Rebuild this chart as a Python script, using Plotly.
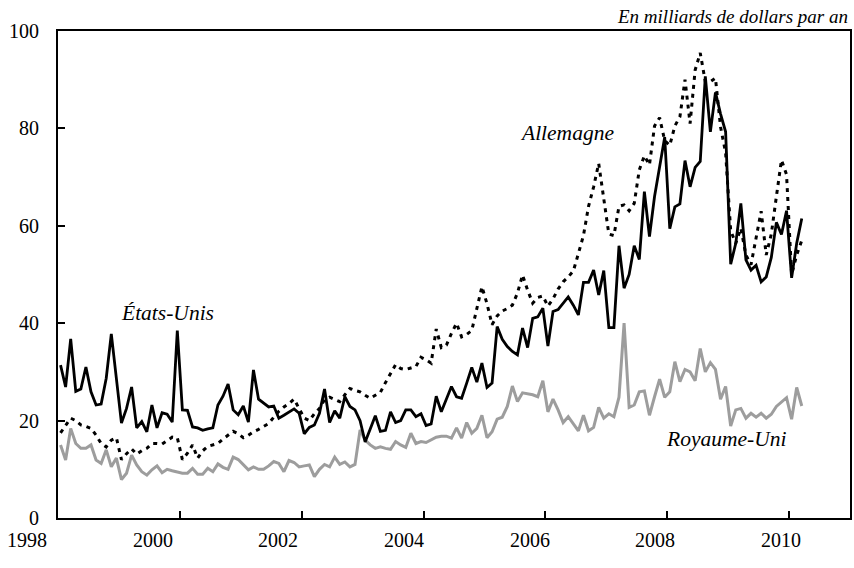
import plotly.graph_objects as go

# monthly, January 1998 onwards
start_year = 1998

etats_unis = [
    31.4, 26.9, 36.8, 26.0, 26.5, 31.0, 25.9, 23.2, 23.4, 28.7, 37.8, 28.0,
    19.5, 22.5, 26.9, 18.5, 19.8, 17.7, 23.2, 18.5, 21.6, 21.3, 19.7, 38.5,
    22.2, 22.1, 18.7, 18.5, 18.0, 18.3, 18.5, 23.2, 25.0, 27.5, 22.2, 21.2,
    23.0, 19.7, 30.4, 24.4, 23.6, 22.8, 23.0, 20.5, 21.1, 21.7, 22.4, 21.5,
    17.3, 18.6, 19.1, 21.5, 26.5, 19.6, 22.0, 20.5, 24.9, 22.9, 22.2, 20.0,
    15.6, 18.3, 21.0, 17.8, 18.0, 21.8, 19.6, 20.0, 22.2, 22.2, 20.8, 21.4,
    19.0, 19.3, 25.0, 21.8, 24.3, 27.0, 24.9, 24.6, 27.7, 30.9, 27.9, 31.8,
    26.8, 27.7, 39.3, 36.7, 35.2, 34.2, 33.5, 39.0, 35.0, 41.0, 41.3, 43.1,
    35.3, 42.4, 42.8, 44.1, 45.4, 43.7, 41.7, 48.4, 48.4, 50.9, 45.8, 50.8,
    39.1, 39.1, 55.9, 47.2, 50.0, 55.9, 53.1, 67.0, 57.8, 66.0, 72.1, 78.2,
    59.4, 63.9, 64.5, 73.4, 68.0, 72.0, 73.2, 90.7, 79.3, 87.4, 83.0, 79.3,
    52.1, 56.4, 64.6, 53.0, 50.9, 51.9, 48.5, 49.5, 53.5, 60.7, 58.2, 63.1,
    49.3, 56.4, 61.5,
]

allemagne = [
    17.5, 19.0, 20.5, 20.0, 19.1, 18.8, 18.4, 17.0, 15.3, 14.6, 16.0, 16.5,
    12.0, 13.2, 14.2, 13.1, 13.8, 14.3, 15.3, 15.3, 15.2, 15.9, 16.6, 16.5,
    12.0, 13.3, 15.0, 12.3, 13.8, 14.7, 15.0, 15.3, 16.2, 17.0, 17.8, 17.3,
    16.5, 17.0, 17.7, 18.2, 18.8, 19.4, 20.7, 21.9, 22.8, 23.5, 24.4, 22.5,
    20.5, 20.0, 21.4, 22.5, 24.3, 24.8, 24.3, 23.9, 25.3, 26.6, 26.2, 25.9,
    25.2, 24.6, 25.2, 25.8, 27.8, 29.8, 31.5, 30.7, 30.5, 30.8, 31.1, 33.0,
    32.5, 31.8, 38.8, 35.0, 35.5, 37.9, 40.0, 37.2, 37.7, 38.5, 43.0, 47.5,
    44.0, 39.7, 41.5, 42.5, 43.0, 43.7, 46.2, 49.9, 46.8, 44.1, 45.3, 45.6,
    43.5, 45.0, 47.0, 48.5, 49.5, 50.7, 54.3, 58.0, 64.0, 68.0, 72.8, 65.0,
    58.3, 58.0, 64.0, 64.3, 63.1, 64.6, 71.5, 74.4, 72.5, 80.5, 82.2, 77.5,
    76.5, 80.5, 82.4, 90.0, 81.0, 92.0, 95.5, 89.6, 89.6, 90.3, 80.3, 75.0,
    59.0, 56.4, 59.5, 54.0, 52.0, 57.5, 63.0, 54.0, 58.3, 66.0, 73.5, 70.5,
    50.0, 54.0, 57.0,
]

royaume_uni = [
    15.0, 11.9, 18.4, 15.3, 14.3, 14.3, 15.0, 11.9, 11.2, 14.0, 10.5, 12.3,
    7.9, 9.2, 12.9, 10.9, 9.5, 8.8, 9.9, 10.7, 9.3, 10.0, 9.7, 9.5,
    9.2, 9.2, 10.2, 9.0, 9.0, 10.2, 9.5, 11.1, 10.4, 10.0, 12.5, 12.0,
    10.9, 9.9, 10.5, 10.0, 10.0, 10.7, 11.6, 11.2, 9.5, 11.8, 11.4, 10.5,
    10.7, 10.9, 8.5, 10.0, 11.0, 10.5, 12.5, 11.0, 11.5, 10.5, 11.0, 18.1,
    16.0, 15.0, 14.3, 14.6, 14.3, 14.1, 15.7, 15.0, 14.5, 17.4, 15.3, 15.7,
    15.5, 16.0, 16.6, 16.8, 16.8, 16.4, 18.5, 16.4, 19.6, 17.4, 18.4, 21.1,
    16.5, 17.7, 20.3, 20.7, 22.9, 27.1, 23.9, 25.7, 25.5, 25.3, 24.9, 28.2,
    21.8, 24.4, 22.2, 19.6, 20.8, 19.4, 17.9, 21.1, 17.9, 18.6, 22.7, 20.5,
    21.4, 20.8, 24.8, 40.0, 22.7, 23.2, 25.9, 26.1, 21.1, 24.9, 28.5, 24.8,
    25.9, 32.1, 28.0, 30.5, 30.0, 28.2, 34.8, 30.0, 31.9, 30.5, 24.4, 27.0,
    18.9, 22.2, 22.5, 20.5, 21.5, 20.7, 21.5, 20.5, 21.3, 22.9, 23.9, 24.7,
    20.3, 26.8, 23.0,
]

year_labels = ["1998", "2000", "2002", "2004", "2006", "2008", "2010"]

x = [start_year + i / 12 for i in range(len(etats_unis))]

font = "Liberation Serif"

fig = go.Figure()

fig.add_trace(go.Scatter(
    x=x, y=royaume_uni, mode="lines", name="Royaume-Uni",
    line=dict(color="#9d9d9d", width=3),
))
fig.add_trace(go.Scatter(
    x=x, y=allemagne, mode="lines", name="Allemagne",
    line=dict(color="black", width=3, dash="4px,5px"),
))
fig.add_trace(go.Scatter(
    x=x, y=etats_unis, mode="lines", name="États-Unis",
    line=dict(color="black", width=2.8),
))

# tick marks sit on the year boundaries, between the monthly points
tick_pos = [int(t) - 0.5 / 12 for t in year_labels]

# the year labels in the original are spread a little wider than the ticks
plot_w, plot_h = 794, 487
label_step = 126 / plot_w
year_notes = [
    dict(x=-31 / plot_w + k * label_step, y=-22 / plot_h,
         xref="paper", yref="paper", xanchor="center", yanchor="middle",
         text=lab, showarrow=False, font=dict(family=font, size=20))
    for k, lab in enumerate(year_labels)
]

fig.update_layout(
    width=854,
    height=568,
    margin=dict(l=58, r=2, t=31, b=50),
    paper_bgcolor="white",
    plot_bgcolor="white",
    showlegend=False,
    font=dict(family=font, size=20, color="black"),
    xaxis=dict(
        range=[start_year - 0.5 / 12, start_year + 155.5 / 12],
        tickvals=tick_pos,
        showticklabels=False,
        ticks="inside",
        ticklen=7,
        tickwidth=2,
        tickcolor="black",
        showline=True,
        linewidth=2,
        linecolor="black",
        mirror=True,
        showgrid=False,
        zeroline=False,
    ),
    yaxis=dict(
        range=[0, 100],
        tickvals=[0, 20, 40, 60, 80, 100],
        ticks="inside",
        ticklen=7,
        tickwidth=2,
        tickcolor="black",
        ticklabelstandoff=13,
        showline=True,
        linewidth=2,
        linecolor="black",
        mirror=True,
        showgrid=False,
        zeroline=False,
    ),
    annotations=year_notes + [
        dict(x=start_year + 21.1 / 12, y=42, text="<i>États-Unis</i>",
             showarrow=False, font=dict(family=font, size=21.5)),
        dict(x=start_year + 99.8 / 12, y=79, text="<i>Allemagne</i>",
             showarrow=False, font=dict(family=font, size=21.5)),
        dict(x=start_year + 131.1 / 12, y=16.2, text="<i>Royaume-Uni</i>",
             showarrow=False, font=dict(family=font, size=21.5)),
        dict(x=1, y=1.03, xref="paper", yref="paper", xanchor="right",
             yanchor="middle", text="<i>En milliards de dollars par an</i>",
             showarrow=False, font=dict(family=font, size=19)),
    ],
)

# drop the page's default body margin so the figure fills the window
fig.write_html("out.html",
               config={"displayModeBar": False},
               post_script="document.body.style.margin = '0';")
